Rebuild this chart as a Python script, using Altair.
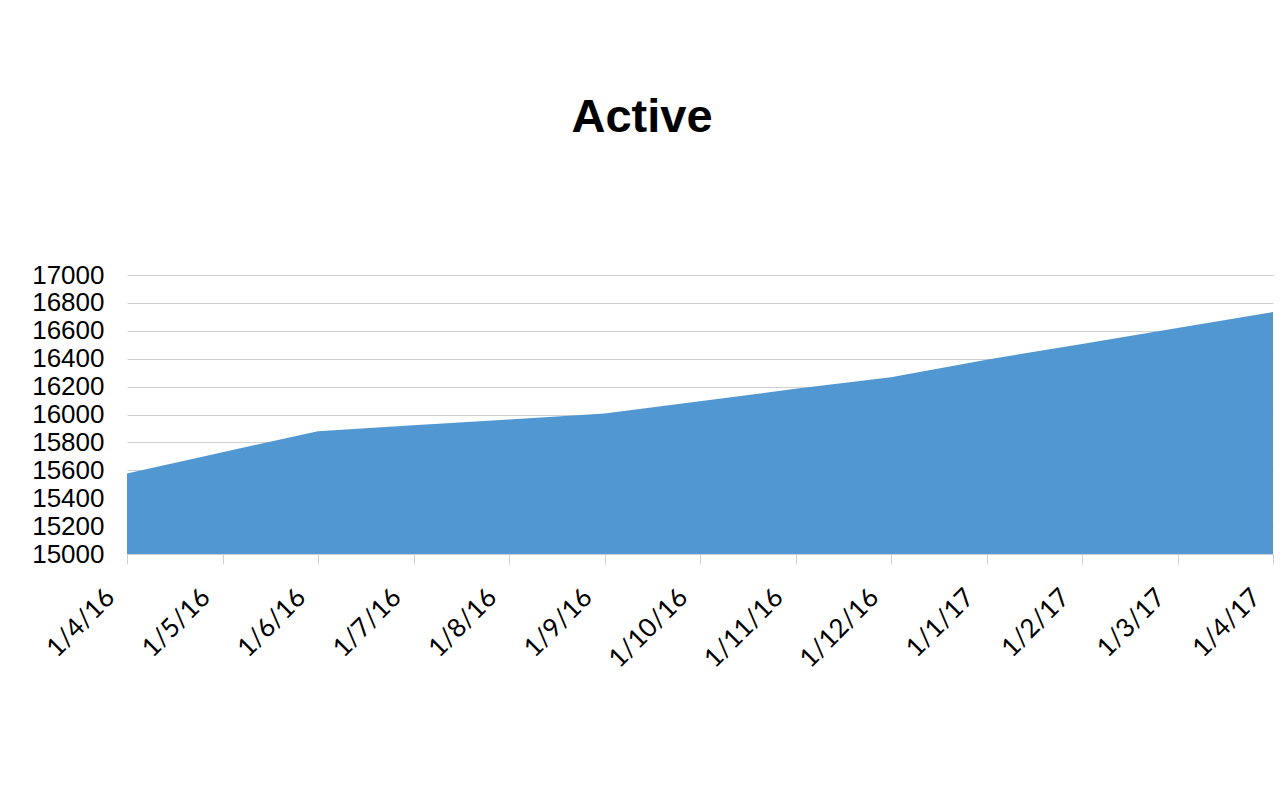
import altair as alt
import pandas as pd

dates = ["1/4/16", "1/5/16", "1/6/16", "1/7/16", "1/8/16", "1/9/16", "1/10/16",
         "1/11/16", "1/12/16", "1/1/17", "1/2/17", "1/3/17", "1/4/17"]
active = [15577, 15730, 15880, 15923, 15965, 16007, 16095,
          16184, 16267, 16393, 16505, 16620, 16734]
y_ticks = [15000, 15200, 15400, 15600, 15800, 16000, 16200, 16400, 16600, 16800, 17000]

df = pd.DataFrame({"date": dates, "active": active})

chart = alt.Chart(df).mark_area(color="#5197d1", opacity=1, clip=True).encode(
    x=alt.X("date:O", sort=dates, title=None,
            scale=alt.Scale(type="point", padding=0),
            axis=alt.Axis(labelAngle=-45, labelAlign="right", labelBaseline="middle",
                          labelFont="Lato", labelFontSize=26, labelColor="#000000",
                          labelPadding=29, labelOffset=-17,
                          tickSize=10, tickColor="#d0d0d0", domainColor="#d0d0d0",
                          grid=False, labelOverlap=False, zindex=1)),
    y=alt.Y("active:Q", title=None,
            scale=alt.Scale(domain=[15000, 17000], nice=False, zero=False),
            axis=alt.Axis(values=y_ticks, format="d", labelFont="Liberation Sans", labelFontSize=26,
                          labelColor="#000000", labelPadding=23, ticks=False, domain=False,
                          labelOverlap=False, labelFlush=False,
                          gridColor="#d0d0d0", gridWidth=1)),
).properties(
    width=1146,
    height=279,
    background="#ffffff",
    title=alt.TitleParams("Active", font="Liberation Sans", fontSize=47, fontWeight="bold",
                          color="#000000", anchor="middle", dx=-58, offset=120),
    autosize=alt.AutoSizeParams(type="none"),
    padding={"left": 119, "top": 267, "right": 7, "bottom": 230},
).configure_view(stroke="transparent", strokeWidth=0)

chart.save("out.html", embed_options={"renderer": "svg", "actions": False})
